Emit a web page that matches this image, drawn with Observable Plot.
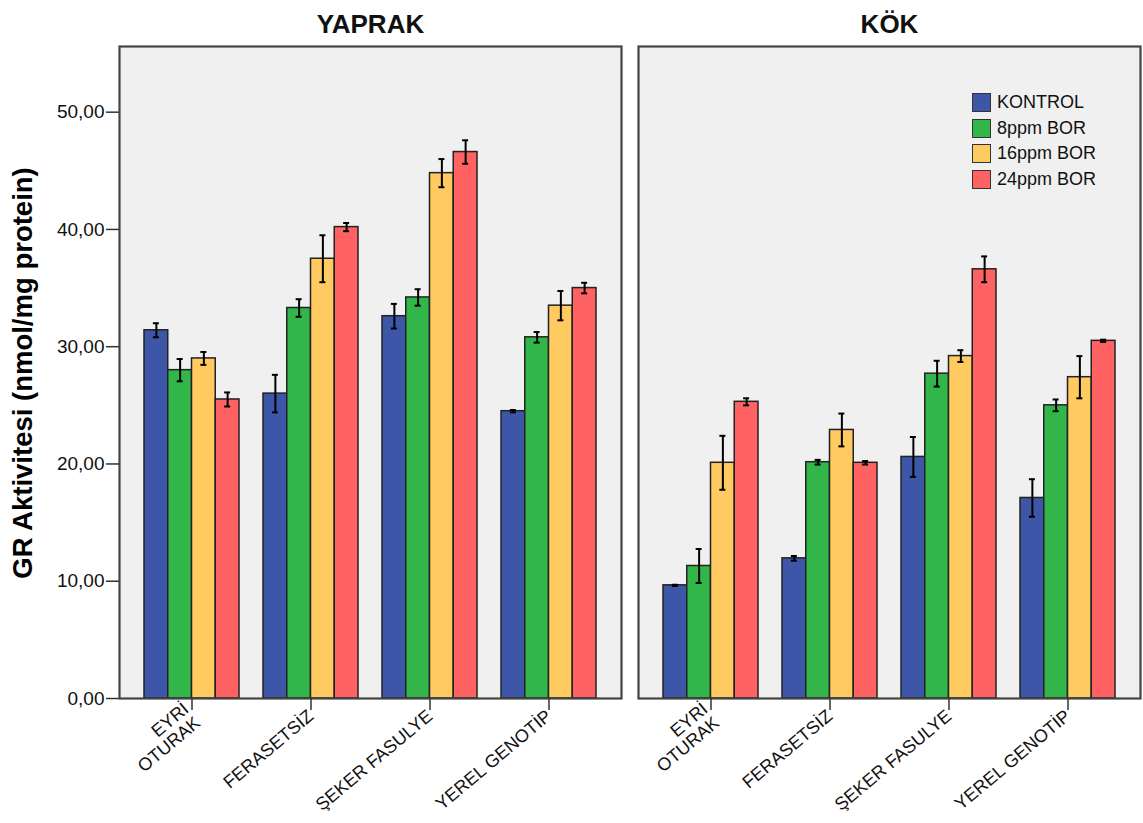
<!DOCTYPE html>
<html>
<head>
<meta charset="utf-8">
<script src="https://cdn.jsdelivr.net/npm/d3@7"></script>
<script src="https://cdn.jsdelivr.net/npm/@observablehq/plot@0.6"></script>
<style>
  html, body { margin: 0; padding: 0; background: #fff; }
  #wrap { position: relative; width: 1143px; height: 823px; font-family: "Liberation Sans", Arial, sans-serif; }
  #ylabel { position: absolute; left: 23px; top: 373px; transform: translate(-50%, -50%) rotate(-90deg);
            white-space: nowrap; font-weight: bold; font-size: 27.5px; color: #000; }
  #legend { position: absolute; left: 972px; top: 90px; font-size: 18px; color: #111; }
  #legend .row { display: flex; align-items: center; height: 25.5px; }
  #legend .sw { width: 17px; height: 17px; border: 1.5px solid #333; margin-right: 6px; box-sizing: content-box; }
</style>
</head>
<body>
<div id="wrap"></div>
<script>
const organs = ["YAPRAK", "KÖK"];
const genotypes = ["EYRİ OTURAK", "FERASETSİZ", "ŞEKER FASULYE", "YEREL GENOTİP"];
const genotypeLabels = ["EYRİ\nOTURAK", "FERASETSİZ", "ŞEKER FASULYE", "YEREL GENOTİP"];
const treatments = ["KONTROL", "8ppm BOR", "16ppm BOR", "24ppm BOR"];
const colors = ["#3E56A8", "#32B64A", "#FFCA60", "#FF6262"];

// rows: genotype, columns: treatment
const yaprakMeans = [
  [31.4, 28.0, 29.0, 25.5],
  [26.0, 33.3, 37.5, 40.2],
  [32.6, 34.2, 44.8, 46.6],
  [24.5, 30.8, 33.5, 35.0]
];
const yaprakErrors = [
  [0.6, 0.95, 0.55, 0.6],
  [1.6, 0.75, 2.0, 0.35],
  [1.05, 0.7, 1.2, 1.0],
  [0.1, 0.45, 1.25, 0.45]
];
const kokMeans = [
  [9.65, 11.3, 20.1, 25.3],
  [11.95, 20.15, 22.9, 20.1],
  [20.6, 27.7, 29.2, 36.6],
  [17.1, 25.0, 27.4, 30.5]
];
const kokErrors = [
  [0.05, 1.45, 2.3, 0.3],
  [0.2, 0.2, 1.4, 0.15],
  [1.7, 1.1, 0.5, 1.1],
  [1.6, 0.5, 1.8, 0.1]
];
const yTicks = [0, 10, 20, 30, 40, 50];
const yMax = 55.6;
const yLabel = "GR Aktivitesi (nmol/mg protein)";

const rows = [];
[[yaprakMeans, yaprakErrors], [kokMeans, kokErrors]].forEach(([m, e], oi) => {
  genotypes.forEach((g, gi) => {
    treatments.forEach((t, ti) => {
      rows.push({organ: organs[oi], genotype: g, treatment: t, ti, mean: m[gi][ti], err: e[gi][ti]});
    });
  });
});

const labelOf = Object.fromEntries(genotypes.map((g, i) => [g, genotypeLabels[i]]));
const fmt = d => d3.format(".2f")(d).replace(".", ",");
const cap = 3;

function build(u) {
  const marks = [Plot.frame({fill: "#f0f0f0"})];
  treatments.forEach((t, i) => {
    const data = rows.filter(r => r.ti === i);
    marks.push(Plot.barY(data, {
      fx: "organ", x: "genotype", y: "mean", fill: colors[i],
      stroke: "#222", strokeWidth: 1.5,
      insetLeft: i * u, insetRight: (3 - i) * u
    }));
  });
  treatments.forEach((t, i) => {
    const data = rows.filter(r => r.ti === i);
    marks.push(Plot.ruleX(data, {
      fx: "organ", x: "genotype", y1: d => d.mean - d.err, y2: d => d.mean + d.err,
      dx: (i - 1.5) * u, stroke: "#000", strokeWidth: 2
    }));
    for (const sign of [1, -1]) {
      marks.push(Plot.tickY(data, {
        fx: "organ", x: "genotype", y: d => d.mean + sign * d.err,
        insetLeft: i * u + u / 2 - cap, insetRight: (3 - i) * u + u / 2 - cap,
        stroke: "#000", strokeWidth: 2
      }));
    }
  });
  marks.push(Plot.frame({stroke: "#444", strokeWidth: 2.2}));
  marks.push(Plot.axisY({ticks: yTicks, tickFormat: fmt, tickSize: 13, tickPadding: 2, fontSize: 19, label: null, stroke: "#333", strokeWidth: 1.5}));
  marks.push(Plot.axisX({tickRotate: -40, tickSize: 12, tickPadding: 3, fontSize: 18, label: null, tickFormat: d => labelOf[d], stroke: "#333", strokeWidth: 1.5}));
  marks.push(Plot.axisFx({anchor: "top", tickSize: 0, tickPadding: 14, fontSize: 26, fontWeight: "bold", label: null}));
  return Plot.plot({
    width: 1143, height: 823,
    marginTop: 46, marginBottom: 125, marginLeft: 119, marginRight: 3,
    style: {fontFamily: "'Liberation Sans', Arial, sans-serif", background: "transparent", color: "#111"},
    fx: {domain: organs, paddingInner: 0.0328, paddingOuter: 0},
    x: {domain: genotypes, paddingInner: 0.2, paddingOuter: 0.2},
    y: {domain: [0, yMax]},
    marks
  });
}

let chart = build(24);
const bw = chart.scale("x") && chart.scale("x").bandwidth;
if (bw) chart = build(bw / 4);

const wrap = document.getElementById("wrap");
wrap.appendChild(chart);

const yl = document.createElement("div");
yl.id = "ylabel";
yl.textContent = yLabel;
wrap.appendChild(yl);

const legend = document.createElement("div");
legend.id = "legend";
treatments.forEach((t, i) => {
  const row = document.createElement("div");
  row.className = "row";
  const sw = document.createElement("span");
  sw.className = "sw";
  sw.style.background = colors[i];
  const tx = document.createElement("span");
  tx.textContent = t;
  row.appendChild(sw);
  row.appendChild(tx);
  legend.appendChild(row);
});
wrap.appendChild(legend);
</script>
</body>
</html>
